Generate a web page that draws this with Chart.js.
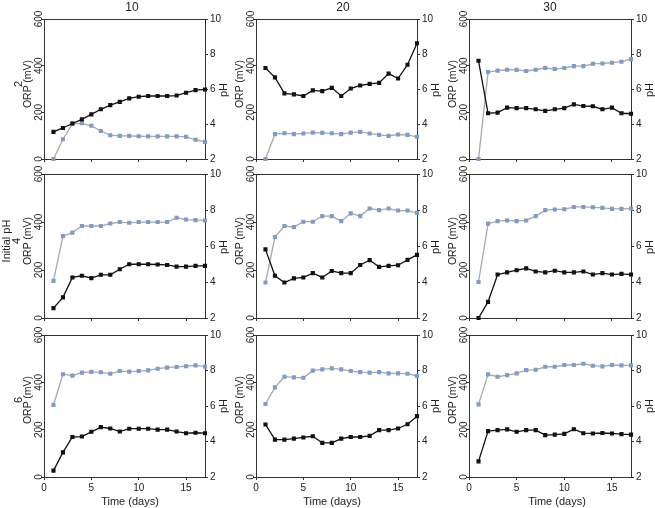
<!DOCTYPE html>
<html>
<head>
<meta charset="utf-8">
<script src="https://cdn.jsdelivr.net/npm/chart.js@4.4.0/dist/chart.umd.min.js"></script>
<style>
    body { margin: 0; background: #fff; }
    #wrap { position: relative; width: 655px; height: 508px; overflow: hidden; font-family: 'Liberation Sans', Arial, sans-serif; color: #222; }
    #wrap canvas { position: absolute; }
    .lbl { position: absolute; white-space: nowrap; font-size: 11px; line-height: 1; transform: translate(-50%, -50%); }
    .rot { transform: translate(-50%, -50%) rotate(-90deg); }
</style>
</head>
<body>
<div id="wrap"></div>
<script>
// days of sampling
const days = [1, 2, 3, 4, 5, 6, 7, 8, 9, 10, 11, 12, 13, 14, 15, 16, 17];
const xTicks = [0, 5, 10, 15];
const orpTicks = [0, 200, 400, 600];
const phTicks = [2, 4, 6, 8, 10];
const columnTitles = ['10', '20', '30'];
const initialPh = ['2', '4', '6'];

// initial pH 2
const orp2_10 = [116, 133, 152, 170, 191, 213, 231, 245, 260, 267, 270, 270, 270, 272, 284, 295, 298];
const ph2_10 = [2.0, 3.13, 4.02, 4.04, 3.9, 3.6, 3.36, 3.32, 3.32, 3.3, 3.29, 3.29, 3.29, 3.29, 3.27, 3.1, 2.98];
const orp2_20 = [390, 350, 281, 277, 270, 294, 291, 305, 270, 302, 315, 322, 326, 366, 345, 404, 496];
const ph2_20 = [2.0, 3.42, 3.47, 3.42, 3.46, 3.51, 3.49, 3.47, 3.42, 3.51, 3.55, 3.46, 3.38, 3.32, 3.4, 3.38, 3.27];
const orp2_30 = [421, 196, 199, 220, 218, 218, 213, 206, 213, 218, 234, 227, 226, 213, 220, 196, 194];
const ph2_30 = [2.0, 6.97, 7.05, 7.1, 7.09, 7.03, 7.1, 7.2, 7.14, 7.2, 7.31, 7.31, 7.44, 7.46, 7.5, 7.56, 7.71];

// initial pH 4
const orp4_10 = [41, 86, 169, 176, 166, 180, 180, 203, 224, 224, 224, 223, 221, 214, 214, 217, 217];
const ph4_10 = [4.06, 6.55, 6.74, 7.11, 7.11, 7.11, 7.25, 7.33, 7.29, 7.33, 7.33, 7.33, 7.33, 7.57, 7.47, 7.44, 7.42];
const orp4_20 = [286, 176, 148, 165, 169, 187, 169, 196, 187, 187, 221, 241, 213, 217, 220, 242, 263];
const ph4_20 = [3.97, 6.5, 7.11, 7.05, 7.35, 7.35, 7.66, 7.66, 7.38, 7.81, 7.66, 8.08, 7.99, 8.08, 7.97, 7.97, 7.84];
const orp4_30 = [0, 67, 181, 190, 199, 207, 194, 190, 197, 190, 190, 194, 181, 187, 181, 184, 181];
const ph4_30 = [4.0, 7.24, 7.38, 7.42, 7.38, 7.42, 7.66, 7.99, 8.03, 8.04, 8.17, 8.17, 8.15, 8.12, 8.06, 8.06, 8.08];

// initial pH 6
const orp6_10 = [27, 104, 169, 171, 191, 211, 205, 192, 204, 204, 204, 200, 200, 192, 185, 187, 185];
const ph6_10 = [6.06, 7.79, 7.71, 7.88, 7.92, 7.9, 7.82, 7.97, 7.94, 7.97, 8.01, 8.1, 8.16, 8.2, 8.24, 8.29, 8.22];
const orp6_20 = [222, 158, 158, 162, 167, 172, 144, 144, 162, 169, 169, 174, 198, 198, 205, 223, 257];
const ph6_20 = [6.11, 7.05, 7.65, 7.61, 7.59, 7.99, 8.06, 8.12, 8.06, 7.97, 7.91, 7.88, 7.91, 7.84, 7.84, 7.82, 7.69];
const orp6_30 = [66, 194, 198, 201, 191, 198, 198, 177, 179, 182, 202, 185, 184, 186, 184, 181, 179];
const ph6_30 = [6.09, 7.78, 7.65, 7.74, 7.84, 8.02, 8.04, 8.21, 8.21, 8.31, 8.31, 8.38, 8.27, 8.23, 8.31, 8.29, 8.29];

const panels = [
    [orp2_10, ph2_10], [orp2_20, ph2_20], [orp2_30, ph2_30],
    [orp4_10, ph4_10], [orp4_20, ph4_20], [orp4_30, ph4_30],
    [orp6_10, ph6_10], [orp6_20, ph6_20], [orp6_30, ph6_30]
];

// plot area placement
const colLeft = [44, 256, 469];
const colWidth = [161, 161, 162];
const rowTop = [19, 174, 335];
const rowHeight = [141, 145, 142];
const padTop = 10, leftW = 20, rightW = 20;

const wrap = document.getElementById('wrap');
const FONT = "'Liberation Sans', Arial, sans-serif";
Chart.defaults.font.family = FONT;

function addLabel(text, x, y, size, rotated) {
    const d = document.createElement('div');
    d.className = 'lbl' + (rotated ? ' rot' : '');
    d.textContent = text;
    d.style.left = x + 'px';
    d.style.top = y + 'px';
    d.style.fontSize = size + 'px';
    wrap.appendChild(d);
}

const framePlugin = {
    id: 'frame',
    afterDraw(chart) {
        const { ctx, chartArea, scales } = chart;
        ctx.save();
        ctx.strokeStyle = '#333';
        ctx.lineWidth = 1;
        ctx.beginPath();
        ctx.moveTo(chartArea.left, chartArea.top + 0.5);
        ctx.lineTo(chartArea.right, chartArea.top + 0.5);
        ctx.stroke();
        // rotated ORP tick labels
        ctx.fillStyle = '#222';
        ctx.font = '10px ' + FONT;
        ctx.textAlign = 'center';
        ctx.textBaseline = 'middle';
        orpTicks.forEach(v => {
            const y = scales.y.getPixelForValue(v);
            ctx.save();
            ctx.translate(chartArea.left - 5, y);
            ctx.rotate(-Math.PI / 2);
            ctx.fillText(String(v), 0, 0);
            ctx.restore();
        });
        ctx.restore();
    }
};

const fixTicks = list => scale => { scale.ticks = list.map(v => ({ value: v })); };

panels.forEach(([orp, ph], i) => {
    const row = Math.floor(i / 3), col = i % 3;
    const w = colWidth[col], h = rowHeight[row];
    const xh = row === 2 ? 18 : 7;
    const canvas = document.createElement('canvas');
    canvas.width = leftW + w + rightW;
    canvas.height = padTop + h + xh;
    canvas.style.left = (colLeft[col] - leftW) + 'px';
    canvas.style.top = (rowTop[row] - padTop) + 'px';
    wrap.appendChild(canvas);

    const axisGrid = { drawOnChartArea: false, tickLength: 3, color: '#333' };

    new Chart(canvas.getContext('2d'), {
        type: 'line',
        data: {
            datasets: [
                {
                    label: 'ORP',
                    data: days.map((d, k) => ({ x: d, y: orp[k] })),
                    borderColor: '#111',
                    backgroundColor: '#111',
                    borderWidth: 1.3,
                    pointStyle: 'rect',
                    pointRadius: 2,
                    tension: 0,
                    clip: false,
                    yAxisID: 'y'
                },
                {
                    label: 'pH',
                    data: days.map((d, k) => ({ x: d, y: ph[k] })),
                    borderColor: '#a8a8a8',
                    backgroundColor: '#7f9cc6',
                    pointBorderColor: '#7f9cc6',
                    borderWidth: 1.3,
                    pointStyle: 'rect',
                    pointRadius: 2,
                    tension: 0,
                    clip: false,
                    yAxisID: 'y1'
                }
            ]
        },
        options: {
            responsive: false,
            animation: false,
            layout: { padding: { top: padTop, left: 0, right: 0, bottom: 0 } },
            plugins: { legend: { display: false }, tooltip: { enabled: false } },
            scales: {
                x: {
                    type: 'linear',
                    min: 0,
                    max: 17,
                    afterBuildTicks: fixTicks(xTicks),
                    afterFit: s => { s.height = xh; },
                    grid: axisGrid,
                    border: { color: '#333' },
                    ticks: { display: row === 2, font: { size: 10 }, color: '#222', padding: 2 }
                },
                y: {
                    position: 'left',
                    min: 0,
                    max: 600,
                    afterBuildTicks: fixTicks(orpTicks),
                    afterFit: s => { s.width = leftW; },
                    grid: axisGrid,
                    border: { color: '#333' },
                    ticks: { display: false }
                },
                y1: {
                    position: 'right',
                    min: 2,
                    max: 10,
                    afterBuildTicks: fixTicks(phTicks),
                    afterFit: s => { s.width = rightW; },
                    grid: axisGrid,
                    border: { color: '#333' },
                    ticks: { font: { size: 10, lineHeight: 1.2 }, color: '#222', padding: 2 }
                }
            }
        },
        plugins: [framePlugin]
    });

    // axis titles
    const mid = rowTop[row] + h / 2;
    addLabel('ORP (mV)', colLeft[col] - 17, mid - 6, 10.5, true);
    addLabel('pH', colLeft[col] + w + 18, mid, 11, true);
    if (row === 2) addLabel('Time (days)', [130, 332, 557][col], 501, 11, false);
});

// column headers and initial pH labels
[132, 343, 550].forEach((x, c) => addLabel(columnTitles[c], x, 7, 12, false));
addLabel(initialPh[0], 18, rowTop[0] + rowHeight[0] / 2 - 6, 11, true);
addLabel('Initial pH', 6, rowTop[1] + rowHeight[1] / 2 - 6, 11, true);
addLabel(initialPh[1], 16, rowTop[1] + rowHeight[1] / 2 - 6, 11, true);
addLabel(initialPh[2], 18, rowTop[2] + rowHeight[2] / 2 - 6, 11, true);
</script>
</body>
</html>
